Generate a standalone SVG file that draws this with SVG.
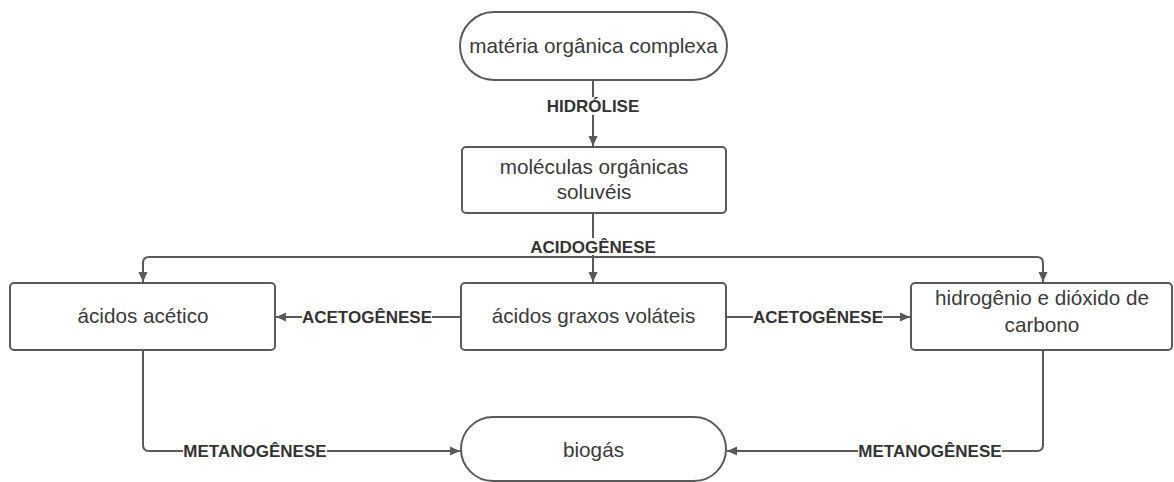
<svg xmlns="http://www.w3.org/2000/svg" width="1174" height="482" viewBox="0 0 1174 482">
<style>
.n{fill:#fff;stroke:#5a5a5a;stroke-width:2}
.t{font-family:"Liberation Sans",Arial,sans-serif;font-size:20.7px;fill:#3a3a3a;text-anchor:middle}
.c{fill:none;stroke:#5a5a5a;stroke-width:2}
.l{font-family:"Liberation Sans",Arial,sans-serif;font-size:17px;font-weight:bold;fill:#333;text-anchor:middle}
.bg{fill:#fff}
</style>
<defs>
<marker id="a" viewBox="0 0 10 10" refX="10" refY="5" markerWidth="10" markerHeight="10" markerUnits="userSpaceOnUse" orient="auto">
<path d="M0,0.5 L10,5 L0,9.5 Z" fill="#5a5a5a"/>
</marker>
</defs>
<rect width="1174" height="482" fill="#fff"/>
<g id="connectors">
<path class="c" d="M593,80 V146" marker-end="url(#a)"/>
<path class="c" d="M593,213 V282" marker-end="url(#a)"/>
<path class="c" d="M593,257 H149 Q143,257 143,263 V282" marker-end="url(#a)"/>
<path class="c" d="M593,257 H1037 Q1043,257 1043,263 V282" marker-end="url(#a)"/>
<path class="c" d="M461,317 H276" marker-end="url(#a)"/>
<path class="c" d="M726,317 H910" marker-end="url(#a)"/>
<path class="c" d="M143,350 V445 Q143,451 149,451 H460" marker-end="url(#a)"/>
<path class="c" d="M1043,350 V445 Q1043,451 1037,451 H727" marker-end="url(#a)"/>
<rect class="bg" x="546" y="97" width="94" height="18"/>
<text class="l" x="593" y="112">HIDRÓLISE</text>
<rect class="bg" x="528" y="238" width="130" height="17"/>
<text class="l" x="593" y="253">ACIDOGÊNESE</text>
<rect class="bg" x="302" y="308" width="130" height="17"/>
<text class="l" x="367" y="323">ACETOGÊNESE</text>
<rect class="bg" x="753" y="308" width="130" height="17"/>
<text class="l" x="818" y="323">ACETOGÊNESE</text>
<rect class="bg" x="183" y="442" width="144" height="17"/>
<text class="l" x="255" y="457">METANOGÊNESE</text>
<rect class="bg" x="858" y="442" width="144" height="17"/>
<text class="l" x="930" y="457">METANOGÊNESE</text>
</g>
<g id="materia">
<rect class="n" x="460" y="12" width="267" height="68" rx="34" ry="34"/>
<text class="t" x="593.5" y="53">matéria orgânica complexa</text>
</g>
<g id="moleculas">
<rect class="n" x="462" y="147" width="264" height="66" rx="4"/>
<text class="t" x="594" y="174">moléculas orgânicas</text>
<text class="t" x="594" y="199">soluvéis</text>
</g>
<g id="acetico">
<rect class="n" x="10" y="283" width="265" height="67" rx="4"/>
<text class="t" x="143" y="323">ácidos acético</text>
</g>
<g id="graxos">
<rect class="n" x="461" y="283" width="265" height="67" rx="4"/>
<text class="t" x="593.5" y="323">ácidos graxos voláteis</text>
</g>
<g id="hidrogenio">
<rect class="n" x="911" y="283" width="261" height="67" rx="4"/>
<text class="t" x="1042" y="305">hidrogênio e dióxido de</text>
<text class="t" x="1042" y="332">carbono</text>
</g>
<g id="biogas">
<rect class="n" x="461" y="417" width="265" height="64" rx="32" ry="32"/>
<text class="t" x="593.5" y="457">biogás</text>
</g>
</svg>
